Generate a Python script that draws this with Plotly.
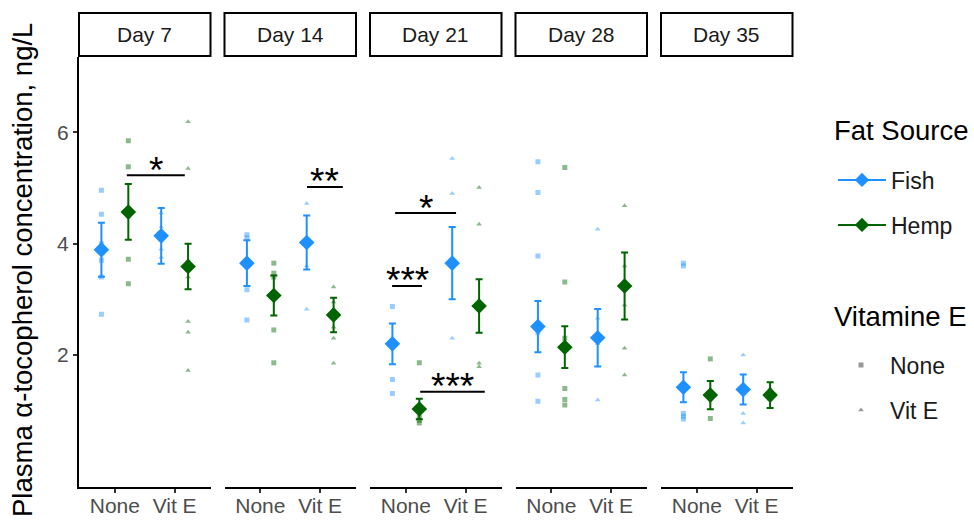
import plotly.graph_objects as go

# ---- data -------------------------------------------------------------
days = ["Day 7", "Day 14", "Day 21", "Day 28", "Day 35"]
vit_levels = ["None", "Vit E"]

# group means and standard errors (one value per day)
fish_none_mean = [3.89, 3.65, 2.20, 2.51, 1.42]
fish_none_se = [0.485, 0.41, 0.365, 0.46, 0.27]
fish_vite_mean = [4.14, 4.02, 3.65, 2.31, 1.38]
fish_vite_se = [0.50, 0.485, 0.65, 0.515, 0.27]
hemp_none_mean = [4.57, 3.07, 1.03, 2.14, 1.28]
hemp_none_se = [0.50, 0.36, 0.185, 0.375, 0.255]
hemp_vite_mean = [3.59, 2.72, 2.88, 3.24, 1.28]
hemp_vite_se = [0.41, 0.31, 0.48, 0.60, 0.23]

# individual observations (one list per day)
fish_none_raw = [
    [4.96, 4.53, 4.00, 3.70, 3.40, 2.73],
    [4.16, 4.10, 3.60, 3.17, 2.63],
    [2.87, 2.20, 1.56, 1.31],
    [5.47, 4.92, 3.78, 2.40, 1.64, 1.17],
    [3.65, 3.60, 0.95, 0.90, 0.85],
]
fish_vite_raw = [
    [4.55, 4.30, 4.10, 3.90, 3.75],
    [4.72, 4.00, 3.60, 2.82],
    [5.53, 4.90, 3.60, 2.30],
    [4.26, 2.66, 2.20, 1.19],
    [2.00, 1.30, 0.95, 0.78],
]
hemp_none_raw = [
    [5.85, 5.38, 4.60, 4.50, 3.72, 3.28],
    [3.65, 3.47, 3.40, 2.45, 1.86],
    [1.86, 1.00, 0.88, 0.83, 0.78],
    [5.37, 3.31, 2.30, 1.40, 1.20, 1.10],
    [1.93, 1.30, 0.86],
]
hemp_vite_raw = [
    [6.19, 5.35, 3.70, 3.40, 2.60, 2.41, 1.72],
    [3.22, 2.95, 2.50, 2.30, 1.85],
    [5.01, 4.35, 2.95, 1.85, 1.79],
    [4.68, 3.60, 2.90, 2.12, 1.64],
    [1.40, 1.20],
]

# significance brackets: panel index, x extent, height, label
sig_day = [0, 1, 2, 2, 2]
sig_x0 = [1.20, 1.78, 0.82, 0.77, 1.24]
sig_x1 = [2.17, 2.38, 1.84, 1.27, 2.32]
sig_y = [5.23, 5.02, 4.55, 3.24, 1.34]
sig_label = ["*", "**", "*", "***", "***"]

y_ticks = [2, 4, 6]

# ---- styling ----------------------------------------------------------
FONT = "Liberation Sans, Arial, sans-serif"
FISH = "#1E90FF"
HEMP = "#006400"
FISH_RAW = "rgba(30,144,255,0.45)"
HEMP_RAW = "rgba(0,100,0,0.45)"
DODGE = 0.225

W, H = 974, 524
ML, MR, MT, MB = 79, 181, 57, 37
PW = W - ML - MR
PH = H - MT - MB
PANEL_W = 131.5
PANEL_STEP = 145.5


def px_x(p):
    return (p - ML) / PW


def px_y(p):
    return (H - MB - p) / PH


fig = go.Figure()

groups = [
    ("Fish", 0, fish_none_mean, fish_none_se, fish_none_raw, FISH, FISH_RAW, "square"),
    ("Fish", 1, fish_vite_mean, fish_vite_se, fish_vite_raw, FISH, FISH_RAW, "triangle-up"),
    ("Hemp", 0, hemp_none_mean, hemp_none_se, hemp_none_raw, HEMP, HEMP_RAW, "square"),
    ("Hemp", 1, hemp_vite_mean, hemp_vite_se, hemp_vite_raw, HEMP, HEMP_RAW, "triangle-up"),
]

for d in range(len(days)):
    xa = "x" if d == 0 else f"x{d + 1}"
    # raw observations underneath
    for src, vi, mean, se, raw, col, rawcol, sym in groups:
        off = -DODGE if src == "Fish" else DODGE
        vals = raw[d]
        fig.add_trace(go.Scatter(
            x=[vi + 1 + off] * len(vals), y=vals, xaxis=xa, yaxis="y",
            mode="markers", showlegend=False, hoverinfo="y",
            marker=dict(symbol=sym, size=5, color=rawcol, line=dict(width=0)),
        ))
    # group means with standard error bars
    for src, vi, mean, se, raw, col, rawcol, sym in groups:
        off = -DODGE if src == "Fish" else DODGE
        fig.add_trace(go.Scatter(
            x=[vi + 1 + off], y=[mean[d]], xaxis=xa, yaxis="y",
            mode="markers", showlegend=False,
            marker=dict(symbol="diamond", size=12, color=col, line=dict(width=0)),
            error_y=dict(type="data", array=[se[d]], color=col, thickness=2, width=3.5),
        ))

# legend entries
legend_items = [
    ("Fish", "legend", dict(mode="lines+markers", line=dict(color=FISH, width=2),
                              marker=dict(symbol="diamond", size=11, color=FISH))),
    ("Hemp", "legend2", dict(mode="lines+markers", line=dict(color=HEMP, width=2),
                               marker=dict(symbol="diamond", size=11, color=HEMP))),
    ("None", "legend3", dict(mode="markers",
                               marker=dict(symbol="square", size=5, color="rgba(0,0,0,0.4)"))),
    ("Vit E", "legend4", dict(mode="markers",
                                marker=dict(symbol="triangle-up", size=5, color="rgba(0,0,0,0.4)"))),
]
for name, lg, kw in legend_items:
    fig.add_trace(go.Scatter(x=[None], y=[None], name=name, legend=lg,
                             showlegend=True, **kw))

layout = dict(
    width=W, height=H,
    margin=dict(l=ML, r=MR, t=MT, b=MB, pad=0, autoexpand=False),
    paper_bgcolor="white", plot_bgcolor="white",
    font=dict(family=FONT, size=21, color="#1A1A1A"),
    showlegend=True,
)

axis_common = dict(
    showgrid=False, zeroline=False, showline=True, linecolor="black", linewidth=2,
    ticks="outside", ticklen=4, tickwidth=1.5, tickcolor="#333333", automargin=False,
    tickfont=dict(family=FONT, size=21, color="#4D4D4D"),
)

shapes = []
annotations = []
for d, day in enumerate(days):
    left = ML + d * PANEL_STEP
    key = "xaxis" if d == 0 else f"xaxis{d + 1}"
    layout[key] = dict(
        axis_common, domain=[px_x(left), px_x(left + PANEL_W)], anchor="y",
        range=[0.4, 2.6], tickvals=[1, 2], ticktext=vit_levels, fixedrange=True,
        ticklabelstandoff=-5,
    )
    xd = "x domain" if d == 0 else f"x{d + 1} domain"
    # facet strip
    shapes.append(dict(type="rect", xref=xd, yref="paper", x0=0, x1=1,
                       y0=px_y(56), y1=px_y(13),
                       line=dict(color="black", width=2), fillcolor="white", layer="above"))
    annotations.append(dict(xref=xd, yref="paper", x=0.5, y=px_y(34), text=day,
                            showarrow=False, xanchor="center", yanchor="middle",
                            font=dict(family=FONT, size=21, color="#1A1A1A")))

layout["yaxis"] = dict(
    axis_common, domain=[0, 1], anchor="x", range=[-0.371, 7.353],
    tickvals=y_ticks, ticktext=[str(v) for v in y_ticks], fixedrange=True,
)

# significance brackets and stars
for d, x0, x1, y, lab in zip(sig_day, sig_x0, sig_x1, sig_y, sig_label):
    xa = "x" if d == 0 else f"x{d + 1}"
    shapes.append(dict(type="line", xref=xa, yref="y", x0=x0, x1=x1, y0=y, y1=y,
                       line=dict(color="black", width=2)))
    annotations.append(dict(xref=xa, yref="y", x=(x0 + x1) / 2, y=y, text=lab,
                            showarrow=False, xanchor="center", yanchor="middle",
                            yshift=5, font=dict(family=FONT, size=37, color="black")))

# axis title
annotations.append(dict(xref="paper", yref="paper", x=px_x(22), y=px_y(270),
                        text="Plasma α-tocopherol concentration, ng/L", textangle=-90,
                        showarrow=False, xanchor="center", yanchor="middle",
                        font=dict(family=FONT, size=27.5, color="black")))

# legend titles
annotations.append(dict(xref="paper", yref="paper", x=px_x(832), y=px_y(130),
                        text="Fat Source", showarrow=False, xanchor="left", yanchor="middle",
                        font=dict(family=FONT, size=27.5, color="black")))
annotations.append(dict(xref="paper", yref="paper", x=px_x(832), y=px_y(316),
                        text="Vitamine E", showarrow=False, xanchor="left", yanchor="middle",
                        font=dict(family=FONT, size=27.5, color="black")))

legend_common = dict(xref="paper", yref="paper", xanchor="left", yanchor="middle",
                     bgcolor="rgba(0,0,0,0)", borderwidth=0,
                     font=dict(family=FONT, size=23, color="#1A1A1A"), itemwidth=48)
layout["legend"] = dict(legend_common, x=px_x(833), y=px_y(180))
layout["legend2"] = dict(legend_common, x=px_x(833), y=px_y(225))
layout["legend3"] = dict(legend_common, x=px_x(832), y=px_y(365))
layout["legend4"] = dict(legend_common, x=px_x(832), y=px_y(410))

layout["shapes"] = shapes
layout["annotations"] = annotations
fig.update_layout(**layout)

fig.write_html("out.html")
